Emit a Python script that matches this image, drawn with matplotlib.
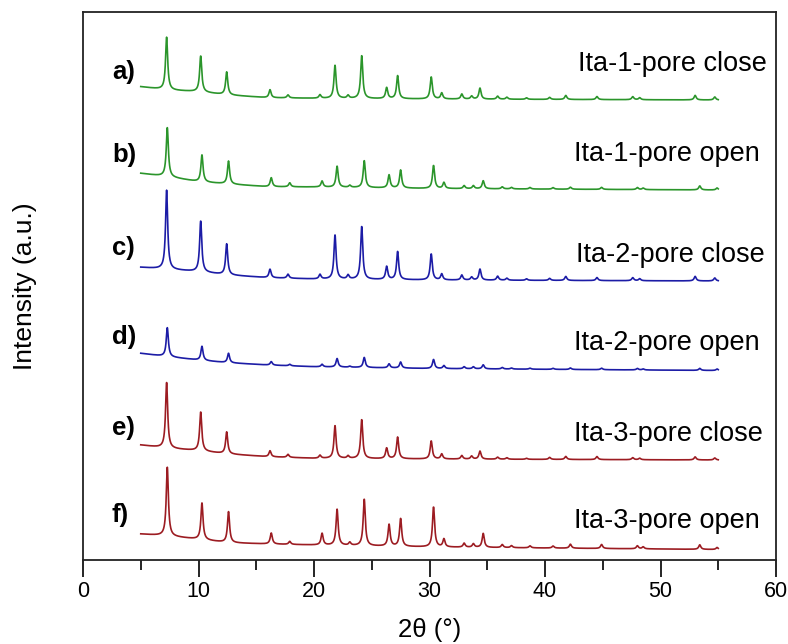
"""Stacked powder XRD patterns for the Ita-n pore close / pore open samples."""

import matplotlib
matplotlib.use("Agg")
import matplotlib.pyplot as plt
import numpy as np
from matplotlib.ticker import MultipleLocator

plt.rcParams["font.family"] = ["Liberation Sans", "DejaVu Sans"]

_GREEN = "#2b952b"
_BLUE  = "#1c1ca6"
_RED   = "#9c1c22"

# ── data (intensities in arbitrary units, already stacked) ───────────────────

two_theta_start = 5.0
two_theta_end   = 55.0

# baseline anchor positions (2θ) and per-pattern baseline levels above offset
baseline_pos = [5.0, 7.3, 10.0, 12.5, 16.0, 20.0, 30.0, 55.0]

peaks_close = [7.24, 10.19, 12.44, 16.19, 17.75, 20.52, 21.82, 22.95, 24.13,
               26.29, 27.24, 30.15, 31.06, 32.8, 33.65, 34.37, 35.9, 36.7,
               38.4, 40.4, 41.8, 44.5, 47.6, 48.2, 53.0, 54.7]
peaks_open = [7.3, 10.3, 12.6, 16.3, 17.9, 20.7, 22.0, 23.1, 24.35,
              26.5, 27.5, 30.35, 31.25, 33.0, 33.8, 34.65, 36.3, 37.1,
              38.7, 40.7, 42.2, 44.9, 48.0, 48.5, 53.4, 54.9]

labels_left  = ["a)", "b)", "c)", "d)", "e)", "f)"]
labels_right = ["Ita-1-pore close", "Ita-1-pore open",
                "Ita-2-pore close", "Ita-2-pore open",
                "Ita-3-pore close", "Ita-3-pore open"]
colors = [_GREEN, _GREEN, _BLUE, _BLUE, _RED, _RED]

offsets = [460, 370, 279, 189.5, 100, 10.5]

base_a = [13.3, 10.0, 8.3, 5.0, 2.3, 1.7, 1.0, 0.0]
base_b = [16.7, 13.3, 8.3, 6.0, 3.3, 3.0, 1.5, 0.0]
base_c = [13.7, 11.7, 9.3, 6.0, 3.3, 2.0, 1.0, 0.0]
base_d = [17.2, 13.8, 10.5, 7.8, 5.5, 3.8, 2.0, 0.0]
base_e = [15.0, 11.7, 9.3, 6.0, 3.3, 1.7, 1.0, 0.0]
base_f = [15.5, 13.5, 10.2, 6.8, 5.5, 4.5, 2.5, 0.0]

height_a = [52.7, 36, 23, 8, 3, 3.5, 33, 3, 43, 11, 23, 22, 6, 5, 3, 11,
            3, 2, 1.5, 2, 4, 3, 3, 2, 4.5, 3]
height_b = [49, 27, 23, 9, 4, 6, 21, 2, 27, 13, 18, 23, 6, 3, 3, 8,
            2, 1.5, 1.5, 1.5, 2, 2, 2, 1.5, 4, 2]
height_c = [79, 51, 31, 8.5, 4, 4.5, 44, 4, 53, 13, 28, 26, 6, 5, 3, 11,
            4, 2, 1.5, 2, 4, 3, 3, 2, 4.5, 3]
height_d = [29, 14, 9.5, 3.5, 1.5, 2.5, 8.5, 1, 10, 4, 6, 9, 3, 2, 2, 4,
            1.5, 1, 1, 1, 1.5, 1.5, 1.5, 1, 2, 1.5]
height_e = [65.6, 39, 22, 6, 3, 3, 32.6, 2.5, 39, 10.6, 21.6, 18, 5, 3.5, 3, 8,
            2, 1.5, 1, 2, 3, 3, 2, 1.5, 3, 2]
height_f = [68.7, 36.6, 31, 11, 3, 11.7, 36, 3, 46.7, 21.7, 27.7, 40, 8, 4, 3.5, 14,
            3, 2, 2, 2, 4, 4, 3, 2, 4.5, 2]

bases   = [base_a, base_b, base_c, base_d, base_e, base_f]
heights = [height_a, height_b, height_c, height_d, height_e, height_f]
positions = [peaks_close, peaks_open, peaks_close, peaks_open, peaks_close, peaks_open]

left_label_y  = [488, 405, 312, 223, 132, 45]
right_label_x = [42.9, 42.5, 42.7, 42.5, 42.5, 42.5]
right_label_y = [496, 406, 305.5, 217, 126, 39]

FWHM = 0.22


def pattern(tt, pos, hts, base):
    """Baseline plus Lorentzian peaks."""
    y = np.interp(tt, baseline_pos, base)
    g = FWHM / 2
    for p, h in zip(pos, hts):
        y = y + h * g**2 / ((tt - p) ** 2 + g**2)
    return y


# ── plot ─────────────────────────────────────────────────────────────────────

fig = plt.figure(figsize=(7.88, 6.44), dpi=100)
ax = fig.add_axes([83 / 788, 1 - 560 / 644, 693 / 788, 548 / 644])

tt = np.linspace(two_theta_start, two_theta_end, 2501)
for i in range(6):
    y = offsets[i] + pattern(tt, positions[i], heights[i], bases[i])
    ax.plot(tt, y, color=colors[i], lw=1.2)
    ax.text(2.5, left_label_y[i], labels_left[i], fontsize=18.5,
            fontweight="bold", ha="left", va="center")
    ax.text(right_label_x[i], right_label_y[i], labels_right[i], fontsize=19.5,
            ha="left", va="center")

ax.set_xlim(0, 60)
ax.set_ylim(0, 548)
ax.xaxis.set_major_locator(MultipleLocator(10))
ax.xaxis.set_minor_locator(MultipleLocator(5))
ax.set_yticks([])
ax.tick_params(axis="x", which="major", direction="out", length=12,
               width=1.2, labelsize=15.5, pad=3)
ax.tick_params(axis="x", which="minor", direction="out", length=7, width=1.2)
for s in ax.spines.values():
    s.set_linewidth(1.3)
    s.set_color("#222222")

ax.set_xlabel("2θ (°)", fontsize=18.5, labelpad=12)
ax.set_ylabel("Intensity (a.u.)", fontsize=19, labelpad=33)

fig.savefig("out.png", dpi=100)
